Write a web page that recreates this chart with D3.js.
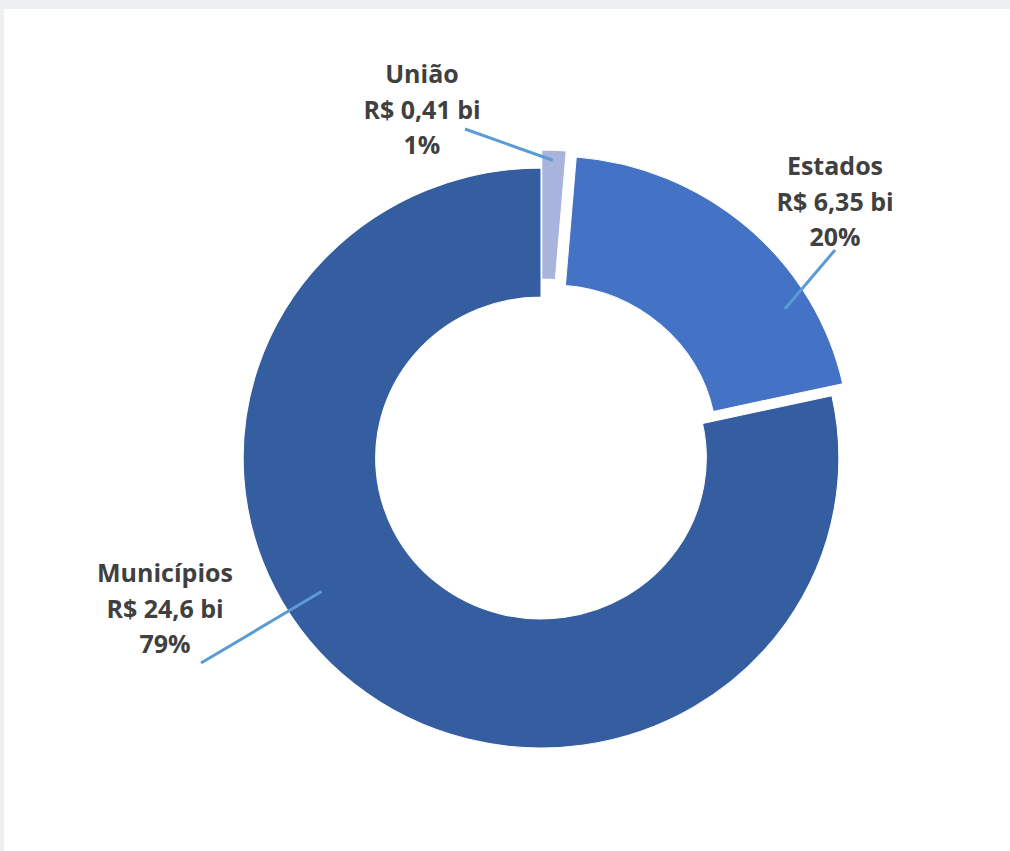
<!DOCTYPE html>
<html>
<head>
<meta charset="utf-8">
<script src="https://cdn.jsdelivr.net/npm/d3@7"></script>
<style>
  body { margin: 0; background: #eeeff1; }
  svg { display: block; }
</style>
</head>
<body>
<div id="container"></div>
<script>
// Doughnut: arrecadação por esfera

const categories = ["União", "Estados", "Municípios"]
const values = [0.41, 6.35, 24.6]
const valueLabels = ["R$ 0,41 bi", "R$ 6,35 bi", "R$ 24,6 bi"]
const percentLabels = ["1%", "20%", "79%"]
const colors = ["#a8b4dc", "#4472c4", "#355ea0"]

const width = 1010,
    height = 851
const center = { x: 541, y: 458 }
const outerR = 290,
    innerR = 161,
    stretchX = 1.027
// explosion distance of each slice along its bisector
const explode = [18, 16, 0]

// label layout: first baseline (centre), leader start, leader end (angle deg, radius) on slice
const labelAt = [[422, 83], [835, 175], [165, 582]]
const leaderFrom = [[465, 129], [835, 250], [201, 663]]
const leaderTo = [[2.2, 280], [58.9, 265], [238, 252]]
const lineH = 35.5

const svg = d3.select("#container").append("svg")
    .attr("width", width)
    .attr("height", height)

svg.append("rect")
    .attr("x", 4).attr("y", 9)
    .attr("width", width).attr("height", height)
    .attr("fill", "#ffffff")

const pie = d3.pie().sort(null).value(d => d)
const arcs = pie(values)

const arc = d3.arc().innerRadius(innerR).outerRadius(outerR)

const chart = svg.append("g")
    .attr("transform", `translate(${center.x},${center.y}) scale(${stretchX},1)`)

const offsetOf = (d, i) => d3.pointRadial((d.startAngle + d.endAngle) / 2, explode[i])

chart.selectAll("path.slice")
    .data(arcs)
    .enter()
    .append("path")
    .attr("class", "slice")
    .attr("transform", (d, i) => {
        let [ox, oy] = offsetOf(d, i)
        return `translate(${ox},${oy})`
    })
    .attr("d", arc)
    .attr("fill", (d, i) => colors[i])
    .attr("stroke", "#ffffff")
    .attr("stroke-width", 1)

// leader lines
svg.append("g").attr("id", "leaders")
    .selectAll("line")
    .data(arcs)
    .enter()
    .append("line")
    .attr("x1", (d, i) => leaderFrom[i][0])
    .attr("y1", (d, i) => leaderFrom[i][1])
    .attr("x2", (d, i) => {
        let [ox] = offsetOf(d, i)
        let [px] = d3.pointRadial(leaderTo[i][0] * Math.PI / 180, leaderTo[i][1])
        return center.x + (ox + px) * stretchX
    })
    .attr("y2", (d, i) => {
        let [, oy] = offsetOf(d, i)
        let [, py] = d3.pointRadial(leaderTo[i][0] * Math.PI / 180, leaderTo[i][1])
        return center.y + oy + py
    })
    .attr("stroke", "#5b9bd5")
    .attr("stroke-width", 3)

// labels
const labels = svg.append("g").attr("id", "labels")
    .attr("text-anchor", "middle")
    .style("font-family", "'Open Sans', sans-serif")
    .style("font-weight", "bold")
    .style("font-size", "25px")
    .attr("fill", "#404040")

labels.selectAll("text")
    .data(categories)
    .enter()
    .append("text")
    .attr("x", (d, i) => labelAt[i][0])
    .attr("y", (d, i) => labelAt[i][1])
    .each(function (d, i) {
        let t = d3.select(this)
        let lines = [d, valueLabels[i], percentLabels[i]]
        lines.forEach((s, k) => {
            t.append("tspan")
                .attr("x", labelAt[i][0])
                .attr("y", labelAt[i][1] + k * lineH)
                .text(s)
        })
    })
</script>
</body>
</html>
